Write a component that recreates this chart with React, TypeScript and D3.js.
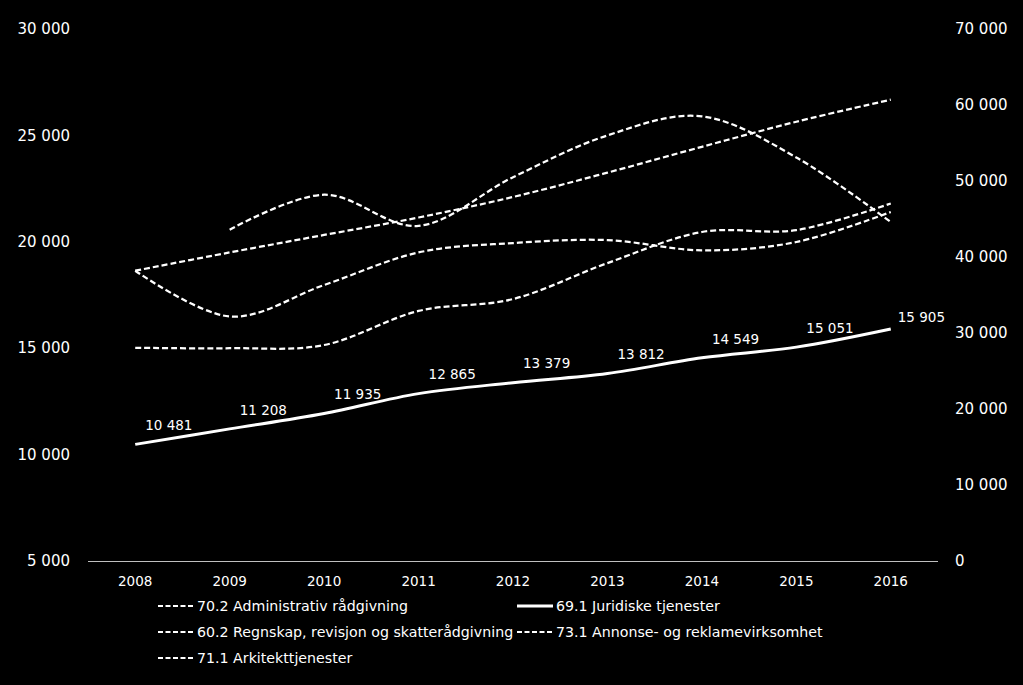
import React from "react";
import * as d3 from "d3";

const years = ["2008", "2009", "2010", "2011", "2012", "2013", "2014", "2015", "2016"];
const leftTicks = [5000, 10000, 15000, 20000, 25000, 30000];
const rightTicks = [0, 10000, 20000, 30000, 40000, 50000, 60000, 70000];

// 69.1 Juridiske tjenester (left axis)
const juridiske = [10481, 11208, 11935, 12865, 13379, 13812, 14549, 15051, 15905];
// 70.2 Administrativ rådgivning (right axis)
const administrativ = [38200, 40600, 42900, 45200, 47900, 51100, 54500, 57800, 60700];
// 71.1 Arkitekttjenester (right axis), starts 2009
const arkitekt: (number | null)[] = [null, 43600, 48200, 44100, 50500, 56000, 58500, 53100, 44600];
// 60.2 Regnskap, revisjon og skatterådgivning (left axis)
const regnskap = [18640, 16490, 17970, 19500, 19940, 20080, 19600, 19990, 21400];
// 73.1 Annonse- og reklamevirksomhet (left axis)
const annonse = [15020, 15000, 15150, 16750, 17310, 19000, 20460, 20550, 21800];

const legendNames = [
  "70.2 Administrativ rådgivning",
  "69.1 Juridiske tjenester",
  "60.2 Regnskap, revisjon og skatterådgivning",
  "73.1 Annonse- og reklamevirksomhet",
  "71.1 Arkitekttjenester",
];

const fmt = (v: number) => d3.format(",")(v).replace(/,/g, " ");

export default function App() {
  const W = 1023, H = 685;
  const x = d3.scaleBand<string>().domain(years).range([88, 938]).padding(0);
  const cx = (y: string) => (x(y) as number) + x.bandwidth() / 2;
  const yL = d3.scaleLinear().domain([5000, 30000]).range([561, 29]);
  const yR = d3.scaleLinear().domain([0, 70000]).range([561, 29]);

  const mk = (vals: (number | null)[], sc: d3.ScaleLinear<number, number>) =>
    d3
      .line<number | null>()
      .defined((d) => d != null)
      .x((_, i) => cx(years[i]))
      .y((d) => sc(d as number))
      .curve(d3.curveCatmullRom.alpha(0))(vals) as string;

  const font = "'DejaVu Sans', Verdana, sans-serif";
  const dashed = [
    { vals: administrativ, sc: yR },
    { vals: arkitekt, sc: yR },
    { vals: regnskap, sc: yL },
    { vals: annonse, sc: yL },
  ];

  const legendItems = [
    { name: legendNames[0], solid: false, col: 0, row: 0 },
    { name: legendNames[1], solid: true, col: 1, row: 0 },
    { name: legendNames[2], solid: false, col: 0, row: 1 },
    { name: legendNames[3], solid: false, col: 1, row: 1 },
    { name: legendNames[4], solid: false, col: 0, row: 2 },
  ];
  const colX = [158, 517];
  const rowY = [606, 632, 658];

  return (
    <svg
      width={W}
      height={H}
      style={{ position: "absolute", left: 0, top: 0, background: "#000" }}
      fontFamily={font}
    >
      <rect x={0} y={0} width={W} height={H} fill="#000" />
      {leftTicks.map((t) => (
        <text key={"l" + t} x={70} y={yL(t)} dy="0.35em" textAnchor="end" fill="#fff" fontSize={15}>
          {fmt(t)}
        </text>
      ))}
      {rightTicks.map((t) => (
        <text key={"r" + t} x={955} y={yR(t)} dy="0.35em" textAnchor="start" fill="#fff" fontSize={15}>
          {fmt(t)}
        </text>
      ))}
      <line x1={88} x2={938} y1={561.5} y2={561.5} stroke="#bfbfbf" strokeWidth={1} />
      {years.map((y) => (
        <text key={y} x={cx(y)} y={581} dy="0.35em" textAnchor="middle" fill="#fff" fontSize={13.5}>
          {y}
        </text>
      ))}
      {dashed.map((s, i) => (
        <path key={i} d={mk(s.vals, s.sc)} fill="none" stroke="#fff" strokeWidth={2.25} strokeDasharray="6,3" />
      ))}
      <path d={mk(juridiske, yL)} fill="none" stroke="#fff" strokeWidth={3} />
      {juridiske.map((v, i) => {
        const last = i === juridiske.length - 1;
        return (
          <text
            key={"d" + i}
            x={cx(years[i]) + (last ? 7 : 10)}
            y={yL(v) + (last ? -12 : -19)}
            dy="0.35em"
            textAnchor="start"
            fill="#fff"
            fontSize={13.5}
          >
            {fmt(v)}
          </text>
        );
      })}
      {legendItems.map((it) => (
        <g key={it.name}>
          <line
            x1={colX[it.col]}
            x2={colX[it.col] + 36}
            y1={rowY[it.row]}
            y2={rowY[it.row]}
            stroke="#fff"
            strokeWidth={it.solid ? 3 : 2}
            strokeDasharray={it.solid ? undefined : "5,2.5"}
          />
          <text x={colX[it.col] + 39} y={rowY[it.row]} dy="0.35em" fill="#fff" fontSize={14.2}>
            {it.name}
          </text>
        </g>
      ))}
    </svg>
  );
}
